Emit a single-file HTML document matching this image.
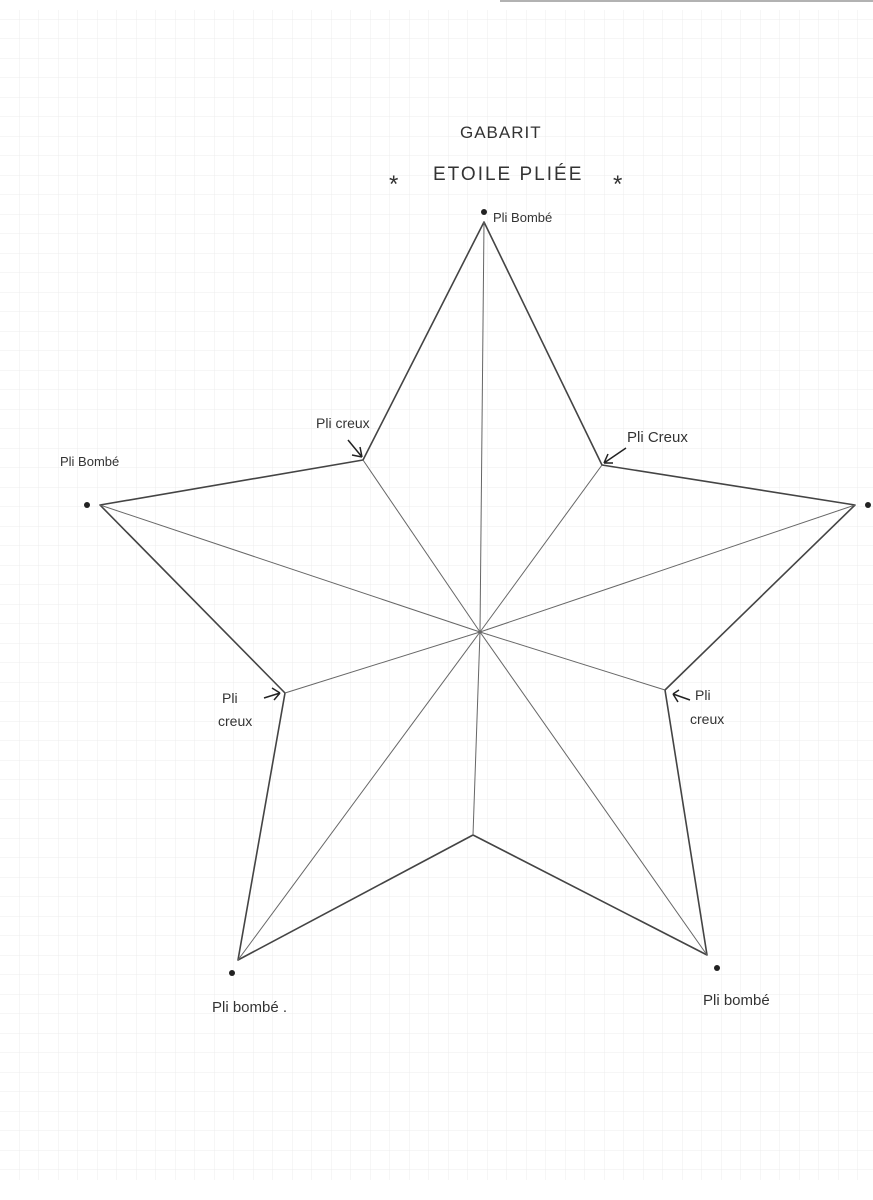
<!DOCTYPE html>
<html><head><meta charset="utf-8"><style>
html,body{margin:0;padding:0;background:#fff;}
svg{display:block;}
text{font-family:"Liberation Sans",sans-serif;fill:#333;}
</style></head><body>
<svg width="873" height="1200" viewBox="0 0 873 1200" xmlns="http://www.w3.org/2000/svg">
<defs>
<pattern id="g" width="19.5" height="19.5" patternUnits="userSpaceOnUse">
<path d="M19.5 0V19.5H0" fill="none" stroke="#ececec" stroke-width="1"/>
</pattern>
</defs>
<rect width="873" height="1200" fill="#fff"/>
<rect x="0" y="10" width="873" height="1170" fill="url(#g)"/>
<line x1="500" y1="1" x2="873" y2="1" stroke="#999" stroke-width="1.5"/>
<g stroke="#444" stroke-width="1.6" fill="none" stroke-linejoin="round">
<polygon points="484,222 602,465 855,505 665,690 707,955 473,835 238,960 285,693 100,505 363,460"/>
</g>
<g stroke="#666" stroke-width="1">
<line x1="480" y1="632" x2="484" y2="222"/>
<line x1="480" y1="632" x2="602" y2="465"/>
<line x1="480" y1="632" x2="855" y2="505"/>
<line x1="480" y1="632" x2="665" y2="690"/>
<line x1="480" y1="632" x2="707" y2="955"/>
<line x1="480" y1="632" x2="473" y2="835"/>
<line x1="480" y1="632" x2="238" y2="960"/>
<line x1="480" y1="632" x2="285" y2="693"/>
<line x1="480" y1="632" x2="100" y2="505"/>
<line x1="480" y1="632" x2="363" y2="460"/>
</g>
<g fill="#222">
<circle cx="484" cy="212" r="3"/>
<circle cx="87" cy="505" r="3"/>
<circle cx="868" cy="505" r="3"/>
<circle cx="232" cy="973" r="3"/>
<circle cx="717" cy="968" r="3"/>
</g>
<text x="460" y="138" font-size="17" letter-spacing="1">GABARIT</text>
<text x="433" y="180" font-size="19" letter-spacing="2">ETOILE PLIÉE</text>
<text x="389" y="192" font-size="24">*</text>
<text x="613" y="192" font-size="24">*</text>
<text x="493" y="222" font-size="13">Pli Bombé</text>
<text x="60" y="466" font-size="13">Pli Bombé</text>
<text x="316" y="428" font-size="14">Pli creux</text>
<text x="627" y="442" font-size="15">Pli Creux</text>
<text x="222" y="703" font-size="14">Pli</text>
<text x="218" y="726" font-size="14">creux</text>
<text x="695" y="700" font-size="14">Pli</text>
<text x="690" y="724" font-size="14">creux</text>
<text x="212" y="1012" font-size="15">Pli bombé .</text>
<text x="703" y="1005" font-size="15">Pli bombé</text>
<g stroke="#222" stroke-width="1.5" fill="none">
<path d="M348 440 L362 457 M362 457 L352 455 M362 457 L360 447"/>
<path d="M626 448 L604 463 M604 463 L608 454 M604 463 L613 463"/>
<path d="M264 698 L280 693 M280 693 L272 688 M280 693 L274 700"/>
<path d="M690 700 L673 694 M673 694 L679 690 M673 694 L678 702"/>
</g>
</svg>
</body></html>
